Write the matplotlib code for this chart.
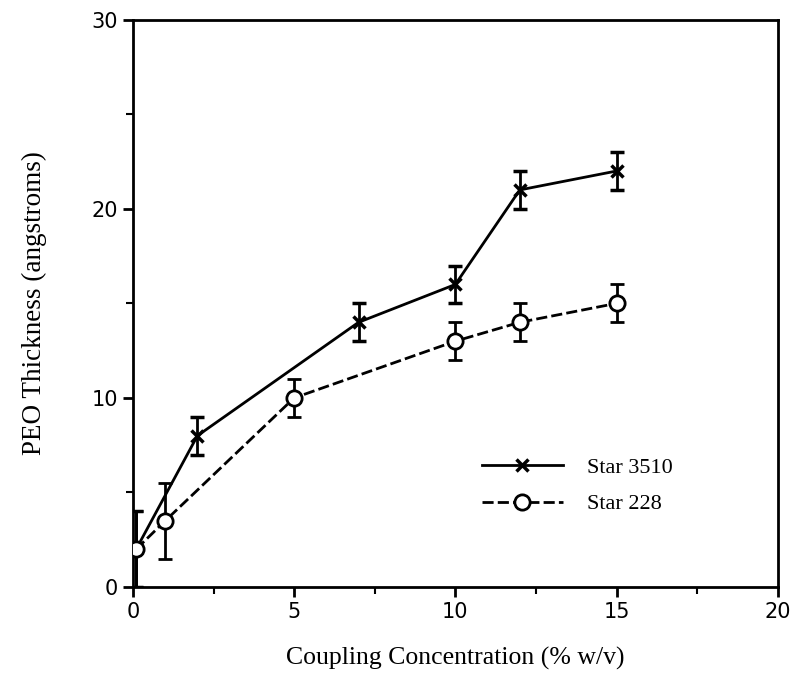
import matplotlib
matplotlib.use("Agg")
import matplotlib.pyplot as plt
from matplotlib.ticker import MultipleLocator

# data
x_3510 = [0.1, 2, 7, 10, 12, 15]
y_3510 = [2, 8, 14, 16, 21, 22]
err_3510 = [2, 1, 1, 1, 1, 1]

x_228 = [0.1, 1, 5, 10, 12, 15]
y_228 = [2, 3.5, 10, 13, 14, 15]
err_228 = [2, 2, 1, 1, 1, 1]

fig = plt.figure(figsize=(7.96, 6.81), dpi=100)
ax = fig.add_axes([0.167, 0.138, 0.810, 0.833])

ax.errorbar(x_3510, y_3510, yerr=err_3510, color='k', lw=2, marker='x',
            ms=9, mew=2.5, capsize=5, elinewidth=2, capthick=2,
            label='Star 3510')
ax.errorbar(x_228, y_228, yerr=err_228, color='k', lw=2, ls=(0, (4, 1.5)),
            marker='o', ms=11, mfc='white', mew=2, capsize=5,
            elinewidth=2, capthick=2, label='Star 228', zorder=3)

ax.set_xlim(0, 20)
ax.set_ylim(0, 30)
ax.xaxis.set_major_locator(MultipleLocator(5))
ax.xaxis.set_minor_locator(MultipleLocator(2.5))
ax.yaxis.set_major_locator(MultipleLocator(10))
ax.yaxis.set_minor_locator(MultipleLocator(5))
ax.tick_params(which='major', direction='out', length=7, width=2, labelsize=15)
ax.tick_params(which='minor', direction='out', length=5, width=1.5)
for s in ax.spines.values():
    s.set_linewidth(2)

serif = ['Liberation Serif', 'DejaVu Serif']
ax.set_xlabel('Coupling Concentration (% w/v)', family=serif, fontsize=18.5,
              labelpad=18)
ax.set_ylabel('PEO Thickness (angstroms)', family=serif, fontsize=19.5,
              labelpad=32)

# legend, handles without error bars
h, l = ax.get_legend_handles_labels()
h = [x[0] for x in h]
leg = ax.legend(h, l, loc='center left', bbox_to_anchor=(0.541, 0.178),
                borderaxespad=0, borderpad=0,
                frameon=False, handlelength=3.65, handletextpad=1.1,
                labelspacing=0.7, prop={'family': serif, 'size': 16})

fig.savefig('out.png', dpi=100)
